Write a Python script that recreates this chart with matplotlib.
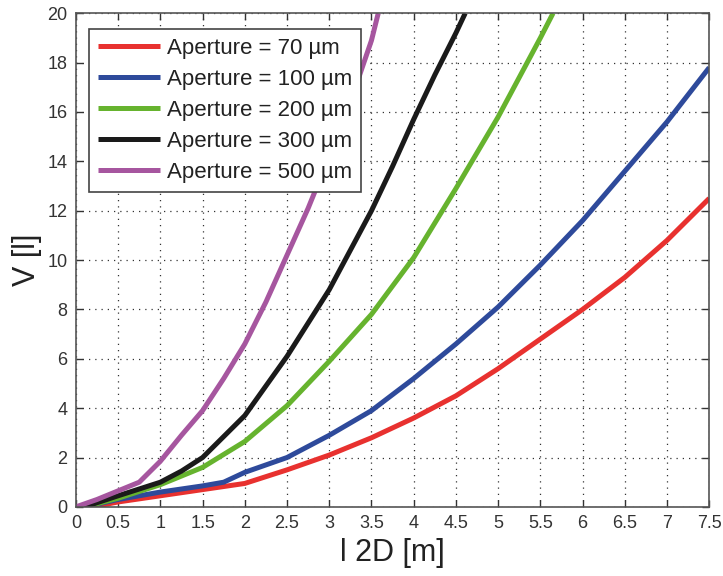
import matplotlib.pyplot as plt

plt.rcParams['font.family'] = ['Liberation Sans', 'DejaVu Sans']

# Values
labels = ['Aperture = 70 µm', 'Aperture = 100 µm', 'Aperture = 200 µm',
          'Aperture = 300 µm', 'Aperture = 500 µm']
colors = ['#e8312f', '#2e4a9b', '#66b32e', '#1a1a1a', '#a6569f']

x_70 = [0.2, 0.5, 1.0, 1.5, 2.0, 2.5, 3.0, 3.5, 4.0, 4.5, 5.0, 5.5, 6.0, 6.5, 7.0, 7.5]
v_70 = [0.0, 0.2, 0.45, 0.7, 0.95, 1.5, 2.1, 2.8, 3.6, 4.5, 5.6, 6.8, 8.0, 9.3, 10.8, 12.5]

x_100 = [0.1, 0.5, 1.0, 1.5, 1.75, 2.0, 2.5, 3.0, 3.5, 4.0, 4.5, 5.0, 5.5, 6.0, 6.5, 7.0, 7.5]
v_100 = [0.0, 0.3, 0.6, 0.85, 1.0, 1.4, 2.0, 2.9, 3.9, 5.2, 6.6, 8.1, 9.8, 11.6, 13.6, 15.6, 17.8]

x_200 = [0.1, 0.5, 1.0, 1.5, 2.0, 2.5, 3.0, 3.5, 4.0, 4.5, 5.0, 5.5, 5.65]
v_200 = [0.0, 0.35, 0.9, 1.6, 2.65, 4.1, 5.9, 7.8, 10.1, 12.9, 15.8, 19.0, 20.0]

x_300 = [0.1, 0.5, 1.0, 1.25, 1.5, 2.0, 2.5, 3.0, 3.5, 3.75, 4.0, 4.25, 4.5, 4.61]
v_300 = [0.0, 0.45, 1.0, 1.45, 2.0, 3.7, 6.1, 8.8, 12.0, 13.8, 15.7, 17.5, 19.2, 20.0]

x_500 = [0.0, 0.25, 0.5, 0.75, 1.0, 1.25, 1.5, 1.75, 2.0, 2.25, 2.5, 2.75, 3.0, 3.25, 3.5, 3.58]
v_500 = [0.0, 0.3, 0.65, 1.0, 1.85, 2.9, 3.9, 5.2, 6.6, 8.3, 10.2, 12.1, 14.2, 16.4, 18.9, 20.0]

xs = [x_70, x_100, x_200, x_300, x_500]
vs = [v_70, v_100, v_200, v_300, v_500]

fig = plt.figure(figsize=(7.23, 5.76), dpi=100)
ax = fig.add_axes([0.105, 0.12, 0.876, 0.857])

for x, v, lab, c in zip(xs, vs, labels, colors):
    ax.plot(x, v, color=c, linewidth=3.6, label=lab, solid_capstyle='butt')

ax.set_xlim(0, 7.5)
ax.set_ylim(0, 20)
ax.set_xticks([i * 0.5 for i in range(16)])
ax.set_xticklabels(['0', '0.5', '1', '1.5', '2', '2.5', '3', '3.5', '4', '4.5',
                    '5', '5.5', '6', '6.5', '7', '7.5'])
ax.set_yticks(range(0, 21, 2))

ax.grid(True, linestyle=(0, (1, 4)), color='#333333', linewidth=0.9)
ax.tick_params(direction='in', top=True, right=True, length=5, width=1,
               labelsize=13, colors='#333333', pad=6)
for s in ax.spines.values():
    s.set_color('#555555')
    s.set_linewidth(1.2)

ax.set_xlabel('l 2D [m]', fontsize=22, color='#222222', labelpad=4)
ax.set_ylabel('V [l]', fontsize=22, color='#222222', labelpad=4)

leg = ax.legend(loc='upper left', fontsize=16, handlelength=2.8, handletextpad=0.3,
                borderpad=0.4, labelspacing=0.45, fancybox=False, framealpha=1,
                bbox_to_anchor=(0.0, 0.995), borderaxespad=0.6)
leg.get_frame().set_edgecolor('#444444')
leg.get_frame().set_linewidth(1.2)
for t in leg.get_texts():
    t.set_color('#222222')

plt.savefig('out.png', dpi=100)
plt.close()
